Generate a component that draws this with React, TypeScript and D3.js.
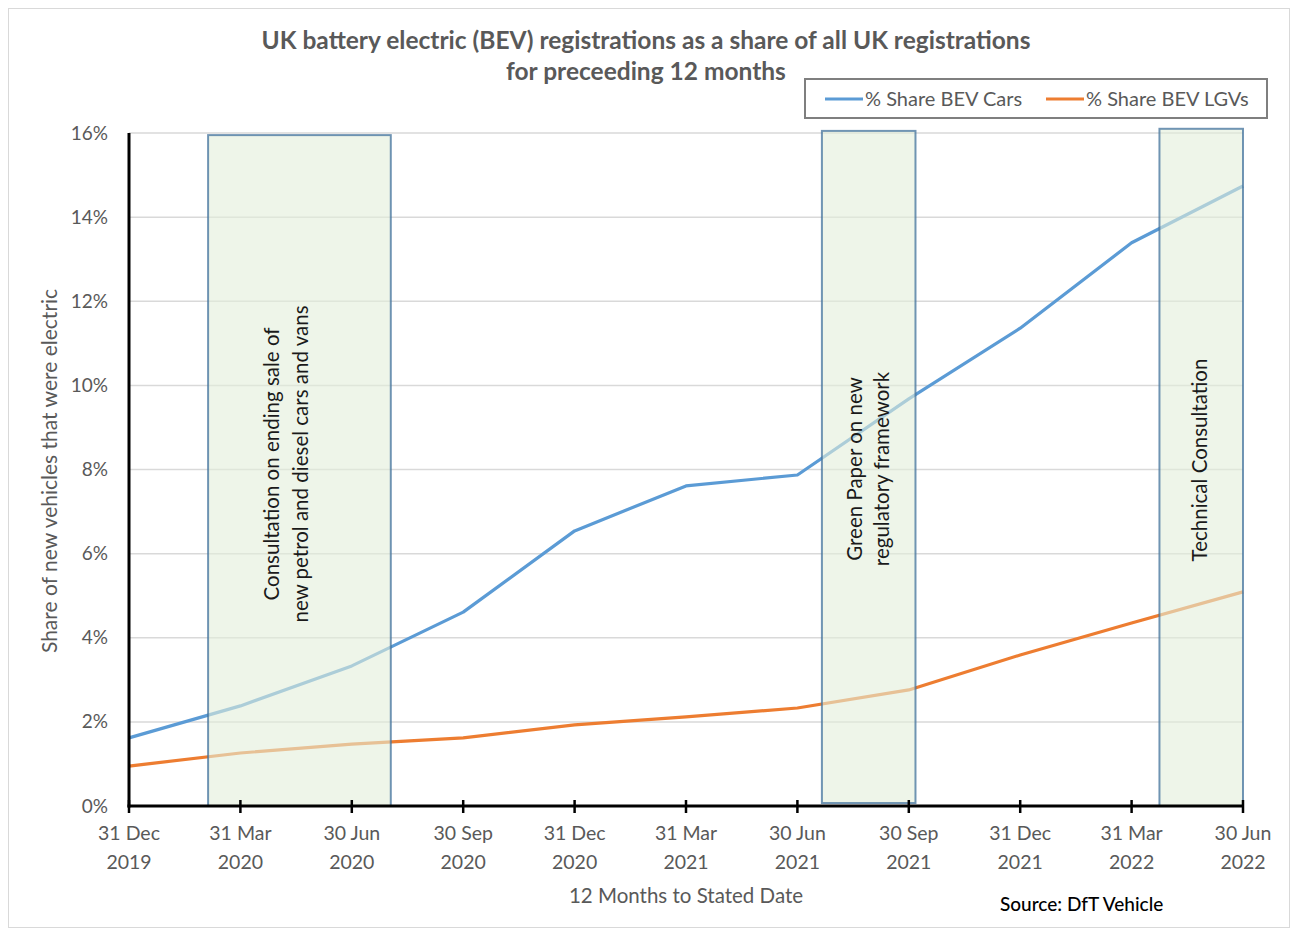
import React from "react";
import * as d3 from "d3";

const categories = [
  ["31 Dec", "2019"], ["31 Mar", "2020"], ["30 Jun", "2020"], ["30 Sep", "2020"],
  ["31 Dec", "2020"], ["31 Mar", "2021"], ["30 Jun", "2021"], ["30 Sep", "2021"],
  ["31 Dec", "2021"], ["31 Mar", "2022"], ["30 Jun", "2022"],
];
const carsShare = [1.62, 2.38, 3.33, 4.61, 6.54, 7.61, 7.87, 9.68, 11.36, 13.39, 14.74];
const lgvShare = [0.95, 1.26, 1.47, 1.62, 1.93, 2.12, 2.33, 2.76, 3.59, 4.35, 5.09];
const yTicks = [0, 2, 4, 6, 8, 10, 12, 14, 16];
// consultation periods, in category-index units
const periodStart = [0.71, 6.22, 9.25];
const periodEnd = [2.35, 7.06, 10.0];
const periodTop = [15.95, 16.05, 16.1];
const periodBottom = [0, 0.07, 0];
const periodLabels = [
  ["Consultation on ending sale of", "new petrol and diesel cars and vans"],
  ["Green Paper on new", "regulatory framework"],
  ["Technical Consultation"],
];
const seriesNames = ["% Share BEV Cars", "% Share BEV LGVs"];
const seriesColors = ["#5b9bd5", "#ed7d31"];

const FONT = "Lato, 'Open Sans', sans-serif";

export default function App() {
  const x = d3.scaleLinear().domain([0, categories.length - 1]).range([129, 1243]);
  const y = d3.scaleLinear().domain([0, 16]).range([806, 133]);
  const line = d3
    .line<number>()
    .x((_, i) => x(i))
    .y((d) => y(d));
  const series = [carsShare, lgvShare];
  const labelX = [[272, 301], [855, 882], [1200]];
  const labelY = [464, 469, 460];

  return (
    <svg
      width={1296}
      height={931}
      style={{ position: "absolute", left: 0, top: 0, background: "#fff" }}
      fontFamily={FONT}
    >
      <rect x={8.5} y={8.5} width={1281} height={919} fill="#fff" stroke="#d9d9d9" strokeWidth={1} />
      {/* title */}
      <text x={646} y={49} textAnchor="middle" fontSize={24.5} fontWeight={700} fill="#595959">
        UK battery electric (BEV) registrations as a share of all UK registrations
      </text>
      <text x={646} y={80} textAnchor="middle" fontSize={24.5} fontWeight={700} fill="#595959">
        for preceeding 12 months
      </text>

      {/* gridlines */}
      {yTicks.slice(1).map((t) => (
        <line key={t} x1={x(0)} x2={x(categories.length - 1)} y1={y(t)} y2={y(t)} stroke="#d9d9d9" strokeWidth={1.5} />
      ))}

      {/* series lines */}
      {series.map((s, k) => (
        <path key={k} d={line(s) || ""} fill="none" stroke={seriesColors[k]} strokeWidth={3.2} strokeLinejoin="round" />
      ))}

      {/* period boxes */}
      {periodStart.map((p, i) => (
        <g key={i}>
          <rect
            x={x(p)}
            y={y(periodTop[i])}
            width={x(periodEnd[i]) - x(p)}
            height={y(periodBottom[i]) - y(periodTop[i])}
            fill="#e2efda"
            fillOpacity={0.6}
            stroke="#41719c"
            strokeOpacity={0.75}
            strokeWidth={2}
          />
          {periodLabels[i].map((l, j) => (
            <text
              key={j}
              transform={`translate(${labelX[i][j] + 7},${labelY[i]}) rotate(-90)`}
              textAnchor="middle"
              fontSize={20.5}
              fill="#1a1a1a"
            >
              {l}
            </text>
          ))}
        </g>
      ))}

      {/* axes */}
      <line x1={x(0)} x2={x(0)} y1={y(16)} y2={y(0) + 1.5} stroke="#000" strokeWidth={3} />
      <line x1={x(0) - 1.5} x2={x(categories.length - 1)} y1={y(0)} y2={y(0)} stroke="#000" strokeWidth={3} />
      {categories.map((_, i) => (
        <line key={i} x1={x(i)} x2={x(i)} y1={y(0) - 6} y2={y(0) + 7} stroke="#000" strokeWidth={2.5} />
      ))}

      {/* y tick labels */}
      {yTicks.map((t) => (
        <text key={t} x={108} y={y(t) + 6.5} textAnchor="end" fontSize={19} fill="#595959">
          {t}%
        </text>
      ))}
      {/* x tick labels */}
      {categories.map((c, i) => (
        <g key={i}>
          <text x={x(i)} y={840} textAnchor="middle" fontSize={19.5} fill="#595959">{c[0]}</text>
          <text x={x(i)} y={869} textAnchor="middle" fontSize={19.5} fill="#595959">{c[1]}</text>
        </g>
      ))}

      {/* axis titles */}
      <text x={686} y={903} textAnchor="middle" fontSize={20.5} fill="#595959">12 Months to Stated Date</text>
      <text transform={`translate(57,471) rotate(-90)`} textAnchor="middle" fontSize={21} fill="#595959">
        Share of new vehicles that were electric
      </text>
      <text x={1000} y={911} fontSize={19} fill="#000" fontWeight={500}>Source: DfT Vehicle</text>

      {/* legend */}
      <rect x={805} y={79} width={462} height={39} fill="#fff" stroke="#7f7f7f" strokeWidth={2} />
      {seriesNames.map((n, i) => {
        const lx = i === 0 ? 825 : 1046;
        return (
          <g key={i}>
            <line x1={lx} x2={lx + 38} y1={99} y2={99} stroke={seriesColors[i]} strokeWidth={3.2} />
            <text x={lx + 40} y={106} fontSize={20} fill="#595959">{n}</text>
          </g>
        );
      })}
    </svg>
  );
}
